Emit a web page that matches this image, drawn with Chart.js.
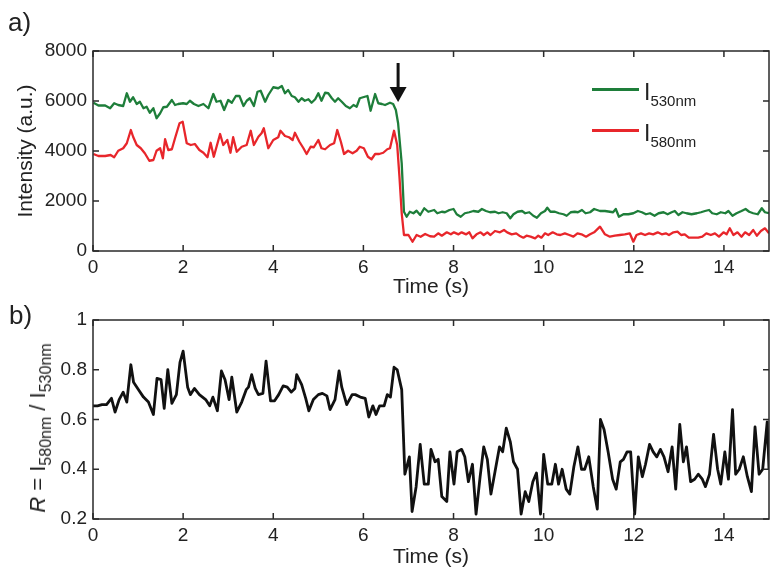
<!DOCTYPE html>
<html>
<head>
<meta charset="utf-8">
<script src="https://cdn.jsdelivr.net/npm/chart.js@4.4.0/dist/chart.umd.min.js"></script>
<style>
  body { margin: 0; background: #fff; width: 780px; height: 577px; position: relative; overflow: hidden;
         font-family: 'Liberation Sans', Arial, sans-serif; color: #222; }
  canvas { position: absolute; left: 0; }
  #chartA { top: 0; }
  #chartB { top: 300px; }
  .panel { position: absolute; font-size: 26px; line-height: 26px; }
  .key-line { position: absolute; height: 2.5px; width: 47px; left: 592px; }
  .key-text { position: absolute; left: 644px; font-size: 23px; line-height: 23px; white-space: nowrap; }
  .key-text span { font-size: 15px; position: relative; top: 6px; }
  #ratioTitle span { font-size: 16px; position: relative; top: 6px; }
  #ratioTitle { position: absolute; left: 39px; top: 428px; font-size: 22px; line-height: 24px; white-space: nowrap;
                transform: translate(-50%, -50%) rotate(-90deg); }
</style>
</head>
<body>
<canvas id="chartA" width="780" height="300"></canvas>
<canvas id="chartB" width="780" height="277"></canvas>

<div class="panel" style="left:8px; top:9px;">a)</div>
<div class="panel" style="left:9px; top:302px;">b)</div>

<div class="key-line" style="top:88px; background:#1e7e3a;"></div>
<div class="key-text" style="top:81px;">I<span>530nm</span></div>
<div class="key-line" style="top:129px; background:#e8262b;"></div>
<div class="key-text" style="top:122px;">I<span>580nm</span></div>

<div id="ratioTitle"><i>R</i> = I<span>580nm</span> / I<span>530nm</span></div>

<script>
// time (s), intensity (a.u.)
const green530 = [
  [0.01,5930],[0.12,5820],[0.27,5820],[0.38,5710],[0.47,5910],[0.56,5840],[0.67,5800],[0.75,6310],[0.82,5970],[0.89,6150],
  [0.97,5880],[1.04,5970],[1.12,5710],[1.19,5770],[1.26,5530],[1.34,5710],[1.41,5310],[1.49,5510],[1.56,5750],[1.64,5770],
  [1.75,6040],[1.82,5840],[1.89,5880],[2.00,5910],[2.08,5880],[2.15,6010],[2.24,5880],[2.34,5800],[2.45,5880],[2.56,5710],
  [2.67,6280],[2.74,5970],[2.83,6010],[2.91,5640],[3.00,6040],[3.08,5930],[3.17,6200],[3.25,6200],[3.34,5800],[3.41,6010],
  [3.48,6110],[3.57,5800],[3.65,6370],[3.72,6410],[3.82,5970],[3.89,6240],[4.00,6550],[4.11,6510],[4.19,6600],[4.26,6310],
  [4.33,6440],[4.41,6200],[4.48,6150],[4.56,5970],[4.63,6110],[4.70,6010],[4.78,6070],[4.85,5930],[4.93,6070],[5.00,6310],
  [5.07,6010],[5.15,6330],[5.22,6310],[5.30,6110],[5.37,5970],[5.44,6110],[5.52,5970],[5.61,5800],[5.70,5710],[5.78,5840],
  [5.85,5770],[5.92,6110],[6.03,6170],[6.09,6200],[6.16,5610],[6.26,6280],[6.33,5910],[6.41,5880],[6.48,5840],[6.59,5930],
  [6.66,5880],[6.72,5640],[6.77,5110],[6.85,3510],[6.90,1570],[6.96,1370],[7.03,1570],[7.11,1510],[7.18,1610],[7.26,1440],
  [7.35,1710],[7.44,1570],[7.57,1640],[7.64,1510],[7.74,1570],[7.81,1550],[7.91,1640],[8.00,1680],[8.07,1470],[8.16,1370],
  [8.25,1510],[8.35,1550],[8.44,1600],[8.55,1570],[8.63,1680],[8.72,1600],[8.81,1550],[8.92,1570],[9.00,1510],[9.09,1550],
  [9.18,1510],[9.26,1310],[9.33,1470],[9.42,1570],[9.52,1600],[9.59,1510],[9.68,1550],[9.77,1410],[9.85,1330],[9.94,1510],
  [10.03,1600],[10.08,1730],[10.15,1570],[10.25,1570],[10.34,1510],[10.44,1470],[10.51,1410],[10.60,1550],[10.69,1570],[10.76,1550],
  [10.85,1640],[10.93,1510],[11.03,1550],[11.12,1680],[11.25,1600],[11.36,1600],[11.47,1570],[11.54,1550],[11.60,1680],[11.67,1370],
  [11.77,1470],[11.88,1470],[11.99,1510],[12.09,1600],[12.18,1550],[12.27,1470],[12.36,1510],[12.46,1410],[12.55,1510],[12.66,1550],
  [12.75,1470],[12.84,1550],[12.91,1600],[12.99,1440],[13.08,1550],[13.17,1510],[13.28,1470],[13.40,1510],[13.49,1550],[13.58,1600],
  [13.67,1640],[13.74,1510],[13.84,1470],[13.93,1550],[14.03,1510],[14.10,1600],[14.19,1410],[14.28,1510],[14.39,1600],[14.48,1680],
  [14.56,1570],[14.65,1510],[14.75,1470],[14.84,1710],[14.91,1550],[15.00,1510]
];

const red580 = [
  [0.01,3880],[0.12,3800],[0.27,3800],[0.39,3840],[0.47,3750],[0.56,4010],[0.67,4110],[0.75,4310],[0.84,4840],[0.89,4570],
  [0.97,4240],[1.06,4110],[1.15,3910],[1.25,3610],[1.34,3640],[1.41,4010],[1.49,4110],[1.55,3710],[1.60,4470],[1.67,4040],
  [1.75,4070],[1.82,4510],[1.92,5110],[1.99,5170],[2.08,4310],[2.17,4240],[2.26,4280],[2.36,4040],[2.45,3930],[2.54,3750],
  [2.61,4330],[2.68,3770],[2.82,4680],[2.89,4240],[2.98,4440],[3.05,3930],[3.11,4550],[3.19,3970],[3.30,4170],[3.41,4240],
  [3.50,4810],[3.57,4240],[3.67,4570],[3.74,4710],[3.79,4910],[3.89,4110],[4.00,4440],[4.11,4550],[4.16,4810],[4.26,4600],
  [4.35,4550],[4.43,4440],[4.48,4730],[4.58,4370],[4.67,4110],[4.74,3880],[4.83,4170],[4.90,4150],[5.00,4440],[5.07,4110],
  [5.15,4070],[5.26,4240],[5.35,4310],[5.42,4840],[5.50,4370],[5.57,3880],[5.66,4010],[5.76,3910],[5.85,4010],[5.92,4170],
  [6.01,4110],[6.10,3770],[6.18,3670],[6.26,3880],[6.35,3880],[6.44,3930],[6.53,4070],[6.59,4110],[6.68,4810],[6.75,4240],
  [6.80,2970],[6.85,1510],[6.90,640],[7.00,640],[7.09,370],[7.18,640],[7.27,570],[7.37,680],[7.48,590],[7.57,573],
  [7.66,707],[7.74,613],[7.85,747],[7.94,667],[8.01,747],[8.11,667],[8.18,747],[8.28,667],[8.35,747],[8.42,507],
  [8.51,667],[8.60,747],[8.67,640],[8.75,747],[8.82,640],[8.92,800],[9.03,747],[9.12,840],[9.19,747],[9.29,667],
  [9.39,707],[9.46,613],[9.55,533],[9.62,613],[9.71,573],[9.81,507],[9.88,613],[9.95,533],[10.03,707],[10.10,640],
  [10.20,747],[10.29,667],[10.37,640],[10.47,707],[10.57,640],[10.66,573],[10.75,707],[10.84,667],[10.94,573],[11.03,667],
  [11.12,747],[11.25,973],[11.36,667],[11.47,573],[11.58,613],[11.69,640],[11.80,667],[11.91,707],[11.99,373],[12.06,640],
  [12.16,707],[12.25,640],[12.34,707],[12.43,667],[12.53,747],[12.62,667],[12.71,707],[12.78,640],[12.88,747],[12.97,773],
  [13.05,640],[13.13,667],[13.22,533],[13.32,533],[13.43,533],[13.52,573],[13.61,707],[13.71,640],[13.80,707],[13.89,573],
  [13.99,747],[14.06,667],[14.13,907],[14.21,640],[14.30,747],[14.39,573],[14.47,747],[14.56,640],[14.65,840],[14.73,613],
  [14.82,800],[14.91,907],[15.00,707]
];

// time (s), R = I580 / I530
const ratioR = [
  [0.00,0.655],[0.10,0.655],[0.20,0.66],[0.30,0.66],[0.41,0.685],[0.49,0.63],[0.58,0.68],[0.67,0.71],[0.75,0.67],[0.84,0.82],
  [0.90,0.75],[1.01,0.72],[1.12,0.69],[1.23,0.67],[1.34,0.62],[1.42,0.765],[1.51,0.76],[1.58,0.645],[1.66,0.80],[1.75,0.665],
  [1.85,0.70],[1.93,0.83],[2.00,0.875],[2.10,0.73],[2.16,0.70],[2.25,0.725],[2.36,0.70],[2.43,0.69],[2.50,0.68],[2.59,0.655],
  [2.66,0.69],[2.76,0.635],[2.85,0.795],[2.93,0.76],[3.02,0.68],[3.08,0.77],[3.19,0.63],[3.30,0.67],[3.40,0.72],[3.45,0.73],
  [3.52,0.78],[3.60,0.725],[3.67,0.70],[3.77,0.705],[3.84,0.835],[3.94,0.675],[4.03,0.675],[4.12,0.70],[4.22,0.735],[4.31,0.73],
  [4.40,0.71],[4.48,0.725],[4.52,0.78],[4.63,0.74],[4.72,0.685],[4.79,0.635],[4.89,0.68],[5.00,0.70],[5.09,0.705],[5.19,0.695],
  [5.26,0.64],[5.37,0.68],[5.46,0.795],[5.52,0.73],[5.63,0.66],[5.75,0.70],[5.82,0.70],[5.93,0.69],[6.04,0.685],[6.12,0.61],
  [6.21,0.655],[6.28,0.62],[6.36,0.655],[6.46,0.655],[6.53,0.70],[6.60,0.69],[6.68,0.81],[6.75,0.80],[6.85,0.72],[6.92,0.38],
  [7.02,0.45],[7.08,0.23],[7.17,0.33],[7.26,0.50],[7.35,0.34],[7.44,0.34],[7.50,0.48],[7.59,0.43],[7.66,0.44],[7.74,0.29],
  [7.85,0.27],[7.92,0.47],[8.01,0.34],[8.08,0.47],[8.18,0.48],[8.25,0.45],[8.33,0.35],[8.42,0.42],[8.50,0.22],[8.59,0.37],
  [8.67,0.49],[8.75,0.44],[8.83,0.30],[8.92,0.39],[9.02,0.49],[9.09,0.47],[9.17,0.565],[9.26,0.51],[9.33,0.43],[9.42,0.40],
  [9.50,0.22],[9.59,0.31],[9.67,0.27],[9.76,0.35],[9.84,0.385],[9.93,0.22],[10.00,0.46],[10.09,0.34],[10.18,0.34],[10.26,0.42],
  [10.33,0.34],[10.41,0.40],[10.50,0.32],[10.58,0.30],[10.67,0.41],[10.76,0.49],[10.84,0.40],[10.91,0.40],[11.00,0.45],[11.10,0.33],
  [11.19,0.24],[11.26,0.60],[11.34,0.56],[11.43,0.47],[11.53,0.36],[11.61,0.32],[11.70,0.43],[11.77,0.44],[11.85,0.47],[11.93,0.47],
  [12.02,0.22],[12.10,0.45],[12.19,0.37],[12.26,0.42],[12.35,0.50],[12.43,0.47],[12.51,0.45],[12.59,0.48],[12.67,0.45],[12.76,0.39],
  [12.85,0.49],[12.93,0.32],[13.02,0.58],[13.10,0.43],[13.17,0.49],[13.26,0.35],[13.35,0.36],[13.43,0.38],[13.52,0.36],[13.59,0.33],
  [13.68,0.38],[13.77,0.54],[13.86,0.40],[13.93,0.34],[14.02,0.47],[14.10,0.36],[14.19,0.64],[14.26,0.38],[14.34,0.40],[14.43,0.45],
  [14.52,0.37],[14.61,0.31],[14.69,0.57],[14.78,0.38],[14.86,0.40],[14.96,0.59],[15.00,0.40]
];

// arrow marking the addition: time, tail value, tip value
const arrowTime = 6.77;
const arrowFrom = 7520;
const arrowTo = 5960;

const xTicks = [0, 2, 4, 6, 8, 10, 12, 14];

Chart.defaults.font.family = "'Liberation Sans', Arial, sans-serif";
Chart.defaults.color = '#222';

function toPoints(list) {
  return list.map(p => ({ x: p[0], y: p[1] }));
}

// MATLAB style box with inward ticks on all four sides
const boxTicks = {
  id: 'boxTicks',
  afterDatasetsDraw(chart) {
    const { ctx, chartArea: a, scales: { x, y } } = chart;
    ctx.save();
    ctx.strokeStyle = '#2a2a2a';
    ctx.lineWidth = 1.5;
    ctx.strokeRect(a.left, a.top, a.right - a.left, a.bottom - a.top);
    ctx.beginPath();
    x.ticks.forEach(t => {
      const px = x.getPixelForValue(t.value);
      ctx.moveTo(px, a.bottom); ctx.lineTo(px, a.bottom - 6);
      ctx.moveTo(px, a.top); ctx.lineTo(px, a.top + 6);
    });
    y.ticks.forEach(t => {
      const py = y.getPixelForValue(t.value);
      ctx.moveTo(a.left, py); ctx.lineTo(a.left + 6, py);
      ctx.moveTo(a.right, py); ctx.lineTo(a.right - 6, py);
    });
    ctx.stroke();
    ctx.restore();
  }
};

const arrowMark = {
  id: 'arrowMark',
  afterDatasetsDraw(chart) {
    const { ctx, scales: { x, y } } = chart;
    const px = x.getPixelForValue(arrowTime);
    const yTail = y.getPixelForValue(arrowFrom);
    const yTip = y.getPixelForValue(arrowTo);
    ctx.save();
    ctx.strokeStyle = '#111';
    ctx.fillStyle = '#111';
    ctx.lineWidth = 3;
    ctx.beginPath();
    ctx.moveTo(px, yTail);
    ctx.lineTo(px, yTip - 12);
    ctx.stroke();
    ctx.beginPath();
    ctx.moveTo(px - 8.5, yTip - 15);
    ctx.lineTo(px + 8.5, yTip - 15);
    ctx.lineTo(px, yTip);
    ctx.closePath();
    ctx.fill();
    ctx.restore();
  }
};

function xScale(titlePad, boxHeight) {
  return {
    type: 'linear', min: 0, max: 15,
    grid: { display: false, drawTicks: false },
    border: { display: false },
    afterBuildTicks: s => { s.ticks = xTicks.map(v => ({ value: v })); },
    ticks: { font: { size: 19 }, padding: 5, maxRotation: 0, autoSkip: false },
    title: { display: true, text: 'Time (s)', font: { size: 21 }, padding: { top: 0, bottom: titlePad } },
    afterFit: s => { s.height = boxHeight; }
  };
}

function lineSet(label, list, color, width) {
  return {
    label: label,
    data: toPoints(list),
    borderColor: color,
    borderWidth: width,
    pointRadius: 0,
    tension: 0,
    borderJoinStyle: 'round'
  };
}

new Chart(document.getElementById('chartA'), {
  type: 'line',
  data: {
    datasets: [
      lineSet('I530nm', green530, '#1e7e3a', 2.3),
      lineSet('I580nm', red580, '#e8262b', 2.3)
    ]
  },
  options: {
    responsive: false,
    animation: false,
    layout: { padding: { top: 51, right: 11, left: 0, bottom: 0 } },
    plugins: { legend: { display: false }, tooltip: { enabled: false } },
    scales: {
      x: xScale(0, 49),
      y: {
        min: 0, max: 8000,
        grid: { display: false, drawTicks: false },
        border: { display: false },
        ticks: { stepSize: 2000, font: { size: 19 }, padding: 6, callback: v => String(v) },
        title: { display: true, text: 'Intensity (a.u.)', font: { size: 21 }, padding: { top: 14, bottom: 0 } },
        afterFit: s => { s.width = 93; }
      }
    }
  },
  plugins: [boxTicks, arrowMark]
});

new Chart(document.getElementById('chartB'), {
  type: 'line',
  data: {
    datasets: [lineSet('R', ratioR, '#111', 2.8)]
  },
  options: {
    responsive: false,
    animation: false,
    layout: { padding: { top: 20, right: 11, left: 0, bottom: 0 } },
    plugins: { legend: { display: false }, tooltip: { enabled: false } },
    scales: {
      x: xScale(7, 58),
      y: {
        min: 0.2, max: 1,
        grid: { display: false, drawTicks: false },
        border: { display: false },
        ticks: { stepSize: 0.2, font: { size: 19 }, padding: 6, callback: v => String(Number(v.toFixed(1))) },
        afterFit: s => { s.width = 93; }
      }
    }
  },
  plugins: [boxTicks]
});
</script>
</body>
</html>
